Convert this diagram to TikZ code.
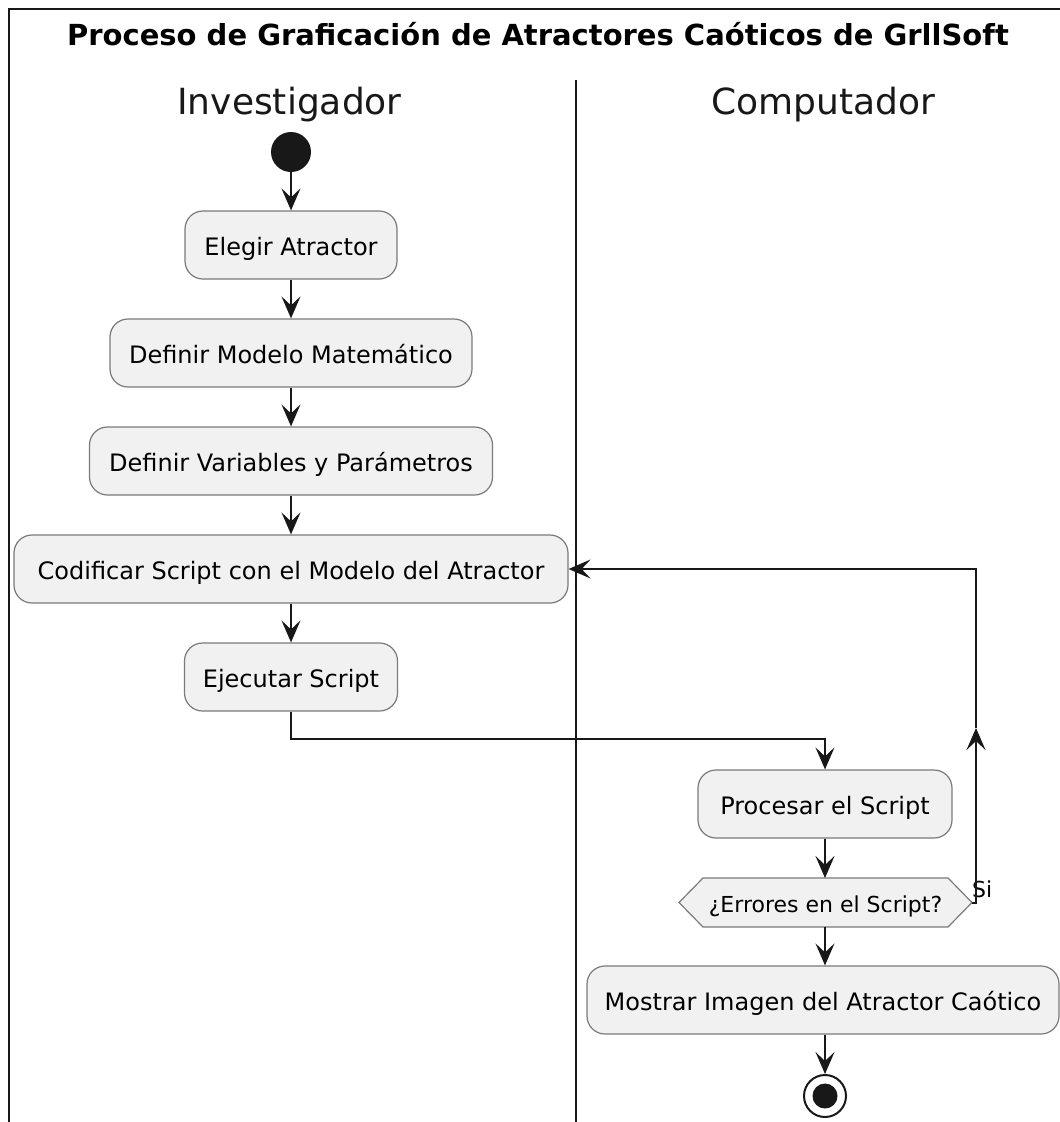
\documentclass[tikz,border=0pt]{standalone}
\usepackage{fontspec}
\setmainfont{DejaVu Sans}
\usetikzlibrary{arrows.meta}
\definecolor{boxfill}{HTML}{F1F1F1}
\definecolor{boxline}{HTML}{7A7A7A}
\definecolor{ink}{HTML}{181818}
\begin{document}
\begin{tikzpicture}[x=1pt,y=-1pt,
  act/.style={draw=boxline, line width=1.2pt, fill=boxfill, rounded corners=18pt,
    minimum height=68pt, inner sep=0pt, text height=20pt, text depth=0pt,
    font=\fontsize{24}{28}\selectfont, text=black},
  flow/.style={draw=ink, line width=2pt, -{Stealth[length=22pt,width=19pt,inset=9pt]}},
  lane/.style={font=\fontsize{36}{40}\selectfont, anchor=base, inner sep=0pt, text=ink},
  frame/.style={draw=ink, line width=2pt}
]
\useasboundingbox (0,0) rectangle (1060,1122);
\fill[white] (0,0) rectangle (1060,1122);
\draw[frame] (9,1122) -- (9,9) -- (1060,9);
\draw[frame] (576,80) -- (576,1122);

\node[font=\bfseries\fontsize{29}{33}\selectfont, anchor=base, inner sep=0pt] (title) at (538,45)
  {Proceso de Graficación de Atractores Caóticos de GrllSoft};
\node[lane] (l1) at (289.5,114) {Investigador};
\node[lane] (l2) at (823.5,114) {Computador};

\node[circle, fill=ink, minimum size=40pt, inner sep=0pt] (start) at (291,152) {};
\node[act, minimum width=212pt] (a1) at (291,245) {Elegir Atractor};
\node[act, minimum width=362pt] (a2) at (291,353) {Definir Modelo Matemático};
\node[act, minimum width=403pt] (a3) at (291,461) {Definir Variables y Parámetros};
\node[act, minimum width=554pt] (a4) at (291,569) {Codificar Script con el Modelo del Atractor};
\node[act, minimum width=213pt] (a5) at (291,677) {Ejecutar Script};
\node[act, minimum width=254pt] (a6) at (825,804) {Procesar el Script};

\filldraw[draw=boxline, line width=1.2pt, fill=boxfill]
  (679,902.5) -- (703,878) -- (948,878) -- (972,902.5) -- (948,927) -- (703,927) -- cycle;
\node[minimum width=293pt, minimum height=49pt, inner sep=0pt, outer sep=0pt,
  text height=19pt, text depth=0pt,
  font=\fontsize{22}{26}\selectfont] (dec) at (825.5,902.5) {¿Errores en el Script?};
\node[font=\fontsize{22}{24}\selectfont, anchor=base west, inner sep=0pt] (si) at (972,897) {Si};

\node[act, minimum width=472pt] (a7) at (823,1000) {Mostrar Imagen del Atractor Caótico};
\node[circle, draw=ink, line width=2pt, fill=white, minimum size=42pt, inner sep=0pt] (stop) at (825,1096) {};
\fill[ink] (stop.center) circle (12.5pt);

\draw[flow] (start) -- (a1);
\draw[flow] (a1) -- (a2);
\draw[flow] (a2) -- (a3);
\draw[flow] (a3) -- (a4);
\draw[flow] (a4) -- (a5);
\draw[flow] (a5.south) -- ++(0,27) -| (a6.north);
\draw[flow] (a6.south) -- (a6.south |- dec.north);
\draw[flow] (a6.south |- dec.south) -- (a6.south |- a7.north);
\draw[flow] (a6.south |- a7.south) -- (stop);
\coordinate (up) at (976,728);
\draw[flow] (dec.east) -| (up);
\draw[flow] (up) |- (a4.east);
\end{tikzpicture}
\end{document}
